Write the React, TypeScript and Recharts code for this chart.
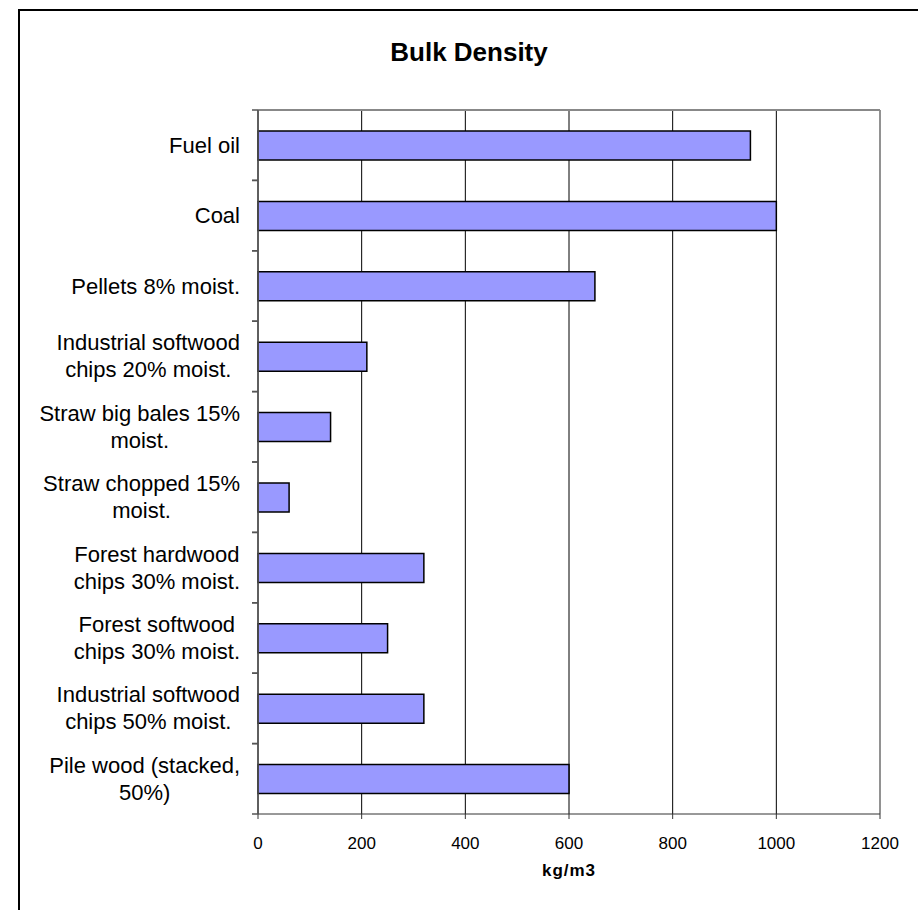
import React from "react"
import { Bar, BarChart, XAxis, YAxis, CartesianGrid, ReferenceLine } from "recharts"

const categories = [
  "Fuel oil",
  "Coal",
  "Pellets 8% moist.",
  "Industrial softwood\nchips 20% moist.",
  "Straw big bales 15%\nmoist.",
  "Straw chopped 15%\nmoist.",
  "Forest hardwood\nchips 30% moist.",
  "Forest softwood\nchips 30% moist.",
  "Industrial softwood\nchips 50% moist.",
  "Pile wood (stacked,\n50%)",
]

const density = [950, 1000, 650, 210, 140, 60, 320, 250, 320, 600]

const xTicks = [0, 200, 400, 600, 800, 1000, 1200]

const data = categories.map((name, i) => ({ name, value: density[i] }))

const FONT = "'Liberation Sans', Arial, sans-serif"

const CategoryTick = ({ x, y, payload }: any) => {
  const half = payload && payload.offset ? payload.offset : 35.3
  return (
    <g>
      <line x1={x - 6} x2={x} y1={y - half} y2={y - half} stroke="#555" strokeWidth={1.5} />
      <line x1={x - 6} x2={x} y1={y + half} y2={y + half} stroke="#555" strokeWidth={1.5} />
      <foreignObject x={x - 258} y={y - 40} width={240} height={80}>
        <div
          style={{
            height: "100%",
            display: "flex",
            alignItems: "center",
            justifyContent: "flex-end",
          }}
        >
          <div
            style={{
              textAlign: "center",
              whiteSpace: "pre",
              fontSize: 22,
              lineHeight: "27px",
              fontFamily: FONT,
              color: "#000",
            }}
          >
            {payload.value}
          </div>
        </div>
      </foreignObject>
    </g>
  )
}

export default function App() {
  return (
    <div style={{ position: "relative", width: 918, height: 910, overflow: "hidden", background: "#fff" }}>
      <style>{`body{margin:0}`}</style>
      <div
        style={{
          position: "absolute",
          left: 18,
          top: 9,
          width: 1000,
          height: 1000,
          border: "2px solid #000",
        }}
      />
      <div
        style={{
          position: "absolute",
          left: 0,
          width: 938,
          top: 37,
          textAlign: "center",
          fontFamily: FONT,
          fontWeight: "bold",
          fontSize: 26,
        }}
      >
        Bulk Density
      </div>
      <BarChart
        width={918}
        height={910}
        data={data}
        layout="vertical"
        margin={{ top: 110, right: 38, left: 18, bottom: 46 }}
        style={{ position: "absolute", left: 0, top: 0 }}
      >
        <CartesianGrid horizontal={false} stroke="#000" strokeWidth={1} />
        <ReferenceLine x={1200} stroke="#999" strokeWidth={1.5} />
        <ReferenceLine y={categories[0]} position="start" stroke="#888" strokeWidth={2} />
        <XAxis
          type="number"
          domain={[0, 1200]}
          ticks={xTicks}
          height={50}
          stroke="#333"
          tickSize={5}
          tickMargin={18}
          tick={{ fill: "#000", fontSize: 17, fontFamily: FONT }}
          label={{
            value: "kg/m3",
            position: "bottom",
            offset: 0,
            fill: "#000",
            fontSize: 17,
            fontWeight: "bold",
            fontFamily: FONT,
            letterSpacing: 1,
          }}
        />
        <YAxis
          type="category"
          dataKey="name"
          width={240}
          stroke="#555"
          strokeWidth={1.5}
          tickLine={false}
          tickSize={0}
          tickMargin={0}
          tick={<CategoryTick />}
          interval={0}
        />
        <Bar
          dataKey="value"
          fill="#9999FF"
          stroke="#000"
          strokeWidth={1.5}
          barSize={29}
          isAnimationActive={false}
        />
      </BarChart>
    </div>
  )
}
